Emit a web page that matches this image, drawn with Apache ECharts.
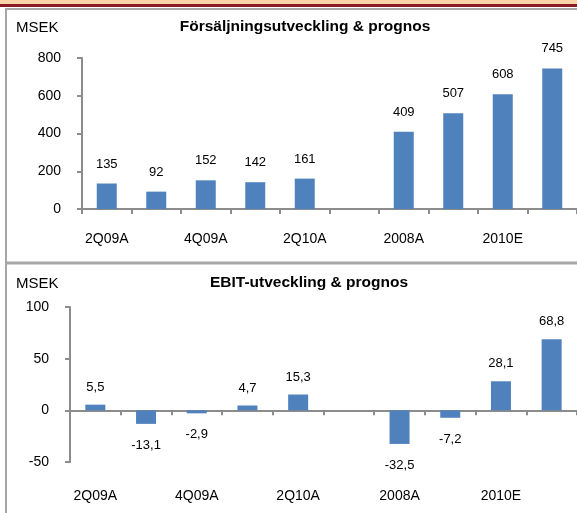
<!DOCTYPE html>
<html><head><meta charset="utf-8">
<script src="https://cdn.jsdelivr.net/npm/echarts@6/dist/echarts.min.js"></script>
<style>html,body{margin:0;padding:0;background:#fff}#c{width:577px;height:513px}</style>
</head><body><div id="c"></div>
<script>
const categories = ['2Q09A','3Q09A','4Q09A','1Q10A','2Q10A','','2008A','2009A','2010E','2011E'];
const salesValues = [135, 92, 152, 142, 161, null, 409, 507, 608, 745];
const ebitValues = [5.5, -13.1, -2.9, 4.7, 15.3, null, -32.5, -7.2, 28.1, 68.8];
const salesTicks = [0, 200, 400, 600, 800];
const ebitTicks = [-50, 0, 50, 100];
const salesTitle = 'Försäljningsutveckling & prognos';
const ebitTitle = 'EBIT-utveckling & prognos';
const unitLabel = 'MSEK';

const FONT = 'Liberation Sans';
const AX = '#8c8c8c';
const BAR = '#4f81bd';
const fmt = v => String(v).replace('.', ',');

function barData(vals, posDist, negDist) {
  return vals.map(v => v === null ? null : {
    value: v,
    label: { position: v < 0 ? 'bottom' : 'top', distance: v < 0 ? negDist : posDist }
  });
}

const chart = echarts.init(document.getElementById('c'), null, {renderer: 'canvas'});
const baseX = (grid, extra) => Object.assign({
  type: 'category', gridIndex: grid, data: categories,
  axisLine: { show: true, onZero: true, lineStyle: { color: AX, width: 2 } },
  axisTick: { show: true, interval: 0, length: 5, lineStyle: { color: AX, width: 2 } },
  axisLabel: { interval: 1, color: '#000', fontFamily: FONT, fontSize: 14, margin: 23 },
  splitLine: { show: false }
}, extra);

chart.setOption({
  animation: false,
  textStyle: { fontFamily: FONT },
  graphic: [
    { type: 'rect', shape: { x: 0, y: 0, width: 577, height: 4 }, style: { fill: '#f9d3a8' } },
    { type: 'rect', shape: { x: 0, y: 4, width: 577, height: 3 }, style: { fill: '#8b1c24' } },
    { type: 'rect', shape: { x: 6, y: 9, width: 600, height: 600 }, style: { fill: 'none', stroke: '#a6a6a6', lineWidth: 2 } },
    { type: 'line', shape: { x1: 6, y1: 263, x2: 577, y2: 263 }, style: { stroke: '#a6a6a6', lineWidth: 3 } },
    { type: 'text', left: 16, top: 20, style: { text: unitLabel, font: '15px ' + FONT, fill: '#000' } },
    { type: 'text', left: 16, top: 276, style: { text: unitLabel, font: '15px ' + FONT, fill: '#000' } }
  ],
  title: [
    { text: salesTitle, left: 300, top: 14, textAlign: 'center',
      textStyle: { fontFamily: FONT, fontSize: 15.5, fontWeight: 'bold', color: '#000' } },
    { text: ebitTitle, left: 304, top: 270, textAlign: 'center',
      textStyle: { fontFamily: FONT, fontSize: 15.5, fontWeight: 'bold', color: '#000' } }
  ],
  grid: [
    { left: 82, top: 58, width: 500, height: 151 },
    { left: 70, top: 307, width: 507, height: 155 }
  ],
  xAxis: [
    baseX(0, {}),
    baseX(1, { axisLabel: { show: false } }),
    baseX(1, { position: 'bottom', axisLine: { show: false, onZero: false }, axisTick: { show: false },
      axisLabel: { interval: 1, color: '#000', fontFamily: FONT, fontSize: 14, margin: 27 } })
  ],
  yAxis: [
    { type: 'value', gridIndex: 0, min: salesTicks[0], max: salesTicks[salesTicks.length-1], interval: 200,
      axisLine: { show: true, lineStyle: { color: AX, width: 2 } },
      axisTick: { show: true, length: 5, lineStyle: { color: AX, width: 2 } },
      axisLabel: { color: '#000', fontFamily: FONT, fontSize: 14, margin: 21 },
      splitLine: { show: false } },
    { type: 'value', gridIndex: 1, min: ebitTicks[0], max: ebitTicks[ebitTicks.length-1], interval: 50,
      axisLine: { show: true, lineStyle: { color: AX, width: 2 } },
      axisTick: { show: true, length: 5, lineStyle: { color: AX, width: 2 } },
      axisLabel: { color: '#000', fontFamily: FONT, fontSize: 14, margin: 21 },
      splitLine: { show: false } }
  ],
  series: [
    { type: 'bar', xAxisIndex: 0, yAxisIndex: 0, barWidth: 20, data: barData(salesValues, 13, 13),
      itemStyle: { color: BAR },
      label: { show: true, color: '#000', fontFamily: FONT, fontSize: 13, formatter: p => fmt(p.value) } },
    { type: 'bar', xAxisIndex: 1, yAxisIndex: 1, barWidth: 20, data: barData(ebitValues, 11, 15),
      itemStyle: { color: BAR },
      label: { show: true, color: '#000', fontFamily: FONT, fontSize: 13, formatter: p => fmt(p.value) } }
  ]
});
</script></body></html>
